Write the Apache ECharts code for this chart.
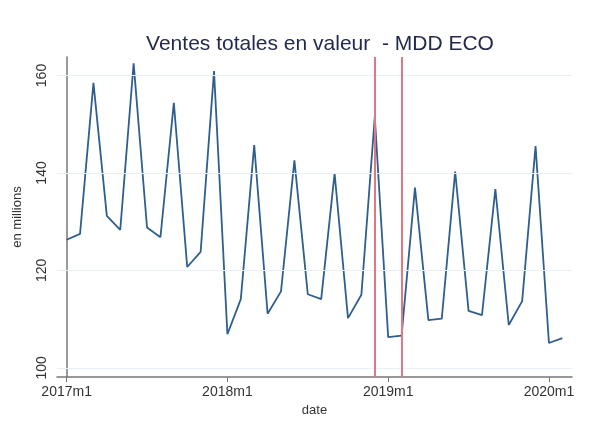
<!DOCTYPE html>
<html>
<head>
<meta charset="utf-8">
<script src="https://cdn.jsdelivr.net/npm/echarts@6/dist/echarts.min.js"></script>
<style>html,body{margin:0;padding:0;background:#fff;}#c{width:596px;height:422px;}</style>
</head>
<body>
<div id="c"></div>
<script>
const months = ["2017m1","2017m2","2017m3","2017m4","2017m5","2017m6","2017m7","2017m8","2017m9","2017m10","2017m11","2017m12",
"2018m1","2018m2","2018m3","2018m4","2018m5","2018m6","2018m7","2018m8","2018m9","2018m10","2018m11","2018m12",
"2019m1","2019m2","2019m3","2019m4","2019m5","2019m6","2019m7","2019m8","2019m9","2019m10","2019m11","2019m12",
"2020m1","2020m2"];
const ventes = [126.3,127.5,158.5,131.2,128.3,162.5,128.8,126.8,154.4,120.7,123.8,160.9,
106.9,114.1,145.7,111.1,115.7,142.6,115.1,114.1,139.9,110.2,115.0,151.5,
106.3,106.6,137.0,109.8,110.1,140.3,111.7,110.8,136.7,108.8,113.7,145.5,
105.1,106.1];
const xTickLabels = ["2017m1","2018m1","2019m1","2020m1"];
const yTicks = [100,120,140,160];
const redLines = ["2018m12","2019m2"];

const xTickIdx = xTickLabels.map(l => months.indexOf(l));
const data = ventes.map((v,i)=>[i,v]);
const chart = echarts.init(document.getElementById('c'), null, {renderer:'canvas'});
chart.setOption({
  backgroundColor:'#ffffff',
  animation:false,
  title:{
    text:'Ventes totales en valeur  - MDD ECO',
    left:315, top:29, textAlign:'center',
    textStyle:{fontFamily:'Liberation Sans',fontSize:21,fontWeight:'normal',color:'#232a4e'}
  },
  grid:{left:57,right:24,top:57,bottom:40},
  xAxis:{
    type:'value', min:-0.72, max:37.72,
    name:'date', nameLocation:'middle', nameGap:25,
    nameTextStyle:{fontFamily:'Liberation Sans',fontSize:13,color:'#333'},
    axisLine:{show:true,lineStyle:{color:'#777',width:1.5}},
    axisTick:{show:true,length:5,lineStyle:{color:'#777'},customValues:xTickIdx},
    axisLabel:{customValues:xTickIdx,fontFamily:'Liberation Sans',fontSize:14,color:'#333',margin:8,
      formatter:v=>months[Math.round(v)]},
    splitLine:{show:false}
  },
  yAxis:{
    type:'value', min:98.1, max:163.8,
    name:'en millions', nameLocation:'middle', nameGap:33,
    nameTextStyle:{fontFamily:'Liberation Sans',fontSize:13,color:'#333'},
    axisLine:{show:true,lineStyle:{color:'#777',width:1.5}},
    axisTick:{show:true,length:5,lineStyle:{color:'#777'},customValues:yTicks},
    axisLabel:{customValues:yTicks,rotate:90,fontFamily:'Liberation Sans',fontSize:14,color:'#333',margin:8},
    splitLine:{show:false}
  },
  series:[{
    type:'line', data:data, symbol:'none',
    lineStyle:{color:'#2e5f8e',width:1.8},
    z:3,
    markLine:{
      silent:true, symbol:'none', label:{show:false},
      data: yTicks.map(t=>({yAxis:t,lineStyle:{color:'#e6f0f6',width:1.2,type:'solid'}}))
    }
  },{
    type:'line', data:[], z:4,
    markLine:{
      silent:true, symbol:'none', label:{show:false},
      data: redLines.map(m=>({xAxis:months.indexOf(m),lineStyle:{color:'#e07882',width:2,type:'solid'}}))
    }
  }]
});
</script>
</body>
</html>
